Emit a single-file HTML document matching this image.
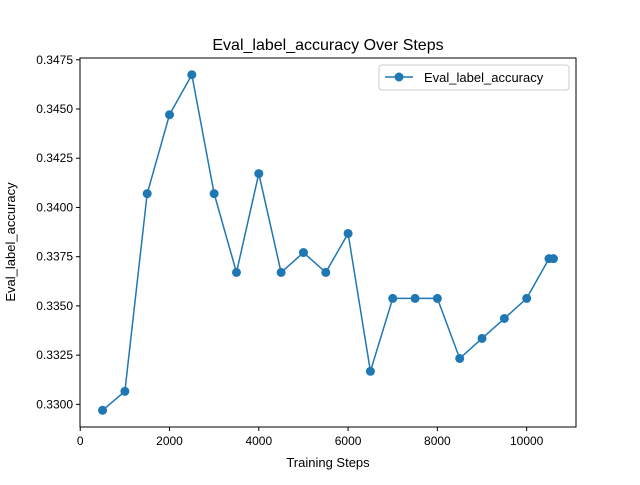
<!DOCTYPE html>
<html><head><meta charset="utf-8"><style>
body{margin:0;background:#fff;font-family:"Liberation Sans","DejaVu Sans",sans-serif}
</style></head><body>
<svg id="chart" width="640" height="480" xmlns="http://www.w3.org/2000/svg">
<rect width="640" height="480" fill="#fff"/>
<text x="328" y="50" text-anchor="middle" font-size="16" fill="#000">Eval_label_accuracy Over Steps</text>
<g id="plot"></g>
<rect x="80" y="58" width="496" height="369" fill="none" stroke="#000" stroke-width="1"/>
<text x="328" y="467" text-anchor="middle" font-size="13">Training Steps</text>
<text transform="translate(15,242) rotate(-90)" text-anchor="middle" font-size="13">Eval_label_accuracy</text>
<g>
<rect x="379" y="65" width="190" height="25" rx="3" fill="#fff" stroke="#ccc"/>
<line x1="385" y1="77" x2="413" y2="77" stroke="#1f77b4" stroke-width="1.5"/>
<circle cx="399" cy="77" r="4.5" fill="#1f77b4"/>
<text x="424" y="82" font-size="13">Eval_label_accuracy</text>
</g>
</svg>
<script>
const steps=[500,1000,1500,2000,2500,3000,3500,4000,4500,5000,5500,6000,6500,7000,7500,8000,8500,9000,9500,10000,10500,10600];
const accuracy=[0.3297,0.33066,0.3407,0.34471,0.34674,0.3407,0.3367,0.34172,0.3367,0.33771,0.3367,0.33868,0.33168,0.33538,0.33538,0.33538,0.33233,0.33335,0.33436,0.33538,0.3374,0.3374];
const xTicks=[0,2000,4000,6000,8000,10000];
const yTicks=[0.33,0.3325,0.335,0.3375,0.34,0.3425,0.345,0.3475];
const NS="http://www.w3.org/2000/svg";
const L=80,R=576,T=58,B=427;
const xmin=-5,xmax=11105,ymin=0.32885,ymax=0.34759;
function X(v){return L+(v-xmin)/(xmax-xmin)*(R-L);}
function Y(v){return B-(v-ymin)/(ymax-ymin)*(B-T);}
const g=document.getElementById('plot');
function mk(t,a){const e=document.createElementNS(NS,t);for(const k in a)e.setAttribute(k,a[k]);g.appendChild(e);return e;}
xTicks.forEach(v=>{
 const l=mk('line',{x1:X(v),x2:X(v),y1:B,y2:B+4,stroke:'#000'});
 
 
 const t=mk('text',{x:X(v),y:B+18,'text-anchor':'middle','font-size':'12'});
 t.textContent=v;
 
 
});
yTicks.forEach(v=>{
 const l=mk('line',{x1:L-4,x2:L,y1:Y(v),y2:Y(v),stroke:'#000'});
 
 
 const t=mk('text',{x:L-7,y:Y(v)+4,'text-anchor':'end','font-size':'12'});
 t.textContent=v.toFixed(4);
 
 
});
const p=mk('polyline',{points:steps.map((s,i)=>X(s)+','+Y(accuracy[i])).join(' '),fill:'none',stroke:'#1f77b4','stroke-width':'1.5'});


steps.forEach((s,i)=>{
 const c=mk('circle',{cx:X(s),cy:Y(accuracy[i]),r:4.5,fill:'#1f77b4'});
 
 
});
</script>
</body></html>
